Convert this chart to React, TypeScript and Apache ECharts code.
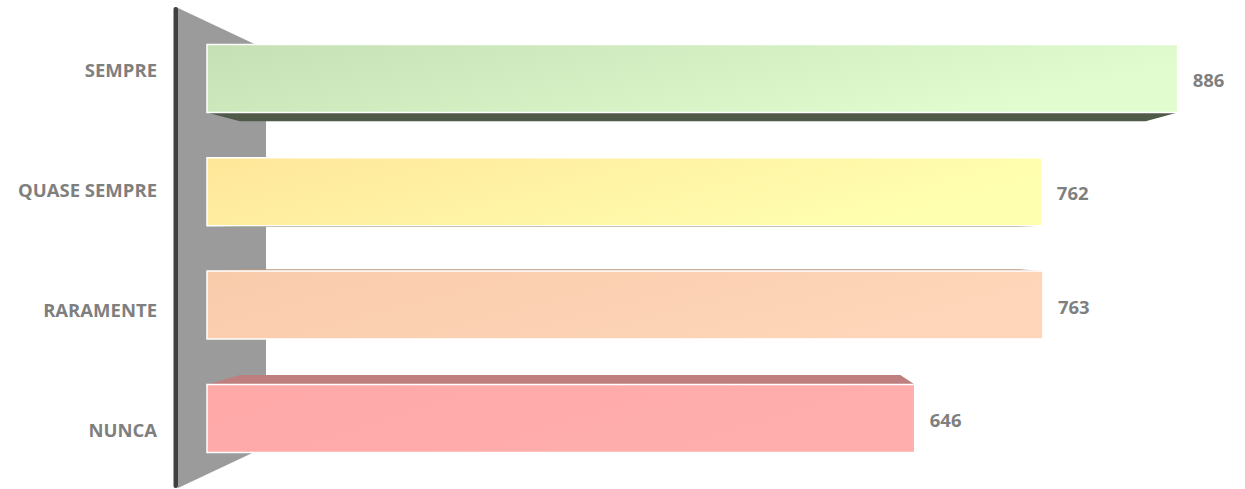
import React, { useEffect, useRef } from "react";
import * as echarts from "echarts";

const categories = ["SEMPRE", "QUASE SEMPRE", "RARAMENTE", "NUNCA"];
const values = [886, 762, 763, 646];
const colorsLeft = ["#c5e0b4", "#ffe699", "#f8cbab", "#ffa9a9"];
const colorsRight = ["#e1fdd0", "#ffffb0", "#ffd6b9", "#ffadad"];

const VX = 699;
const VY = 242;
const K = 0.933;

function shade(hex: string, f: number): string {
  const n = parseInt(hex.slice(1), 16);
  const r = Math.round(((n >> 16) & 255) * f);
  const g = Math.round(((n >> 8) & 255) * f);
  const b = Math.round((n & 255) * f);
  return "rgb(" + r + "," + g + "," + b + ")";
}

function back(x: number, y: number): number[] {
  return [VX + K * (x - VX), VY + K * (y - VY)];
}

export default function App() {
  const ref = useRef<HTMLDivElement>(null);
  useEffect(() => {
    if (!ref.current) return;
    const chart = echarts.init(ref.current, null, { renderer: "svg" });
    const labelFont = {
      color: "#7f7f7f",
      fontWeight: "bold" as const,
      fontSize: 18.5,
      fontFamily: "'Open Sans', sans-serif",
    };
    chart.setOption({
      animation: false,
      backgroundColor: "#ffffff",
      graphic: [
        {
          type: "polygon",
          z: -10,
          shape: { points: [[178, 8], [266, 49.5], [266, 446.5], [178, 488]] },
          style: { fill: "#9b9b9b" },
        },
        {
          type: "rect",
          z: -9,
          shape: { x: 173.5, y: 7, width: 4.5, height: 481, r: 2 },
          style: { fill: "#404040" },
        },
      ],
      grid: [
        { left: 176, top: 10, height: 480, width: 1000 },
        { left: 207, top: 21.8, height: 453.3, width: 986 },
      ],
      xAxis: [
        { gridIndex: 0, type: "value", min: 0, max: 900, show: false },
        { gridIndex: 1, type: "value", min: 0, max: 900, show: false },
      ],
      yAxis: [
        {
          gridIndex: 0,
          type: "category",
          inverse: true,
          data: categories,
          axisLine: { show: false },
          axisTick: { show: false },
          splitLine: { show: false },
          axisLabel: { margin: 19, ...labelFont },
        },
        {
          gridIndex: 1,
          type: "category",
          inverse: true,
          data: categories,
          show: false,
        },
      ],
      series: [
        {
          type: "custom",
          xAxisIndex: 1,
          yAxisIndex: 1,
          z: 5,
          data: values.map((v, i) => [v, i]),
          renderItem: (params: any, api: any) => {
            const idx = api.value(1);
            const v = api.value(0);
            const p0 = api.coord([0, idx]);
            const p1 = api.coord([v, idx]);
            const h = api.size([0, 1])[1] * 0.6;
            const x0 = p0[0];
            const x1 = p1[0];
            const yt = p0[1] - h / 2;
            const yb = p0[1] + h / 2;
            const children: any[] = [];
            if (yb < VY) {
              children.push({
                type: "polygon",
                shape: { points: [[x0, yb], [x1, yb], back(x1, yb), back(x0, yb)] },
                style: { fill: shade(colorsLeft[idx], 0.4) },
              });
            }
            if (yt > VY) {
              children.push({
                type: "polygon",
                shape: { points: [[x0, yt], [x1, yt], back(x1, yt), back(x0, yt)] },
                style: { fill: shade(colorsLeft[idx], 0.75) },
              });
            }
            children.push({
              type: "rect",
              shape: { x: x0, y: yt, width: x1 - x0, height: h },
              style: {
                fill: new echarts.graphic.LinearGradient(0, 0, 1, 0.3, [
                  { offset: 0, color: colorsLeft[idx] },
                  { offset: 1, color: colorsRight[idx] },
                ]),
                stroke: "#ffffff",
                lineWidth: 1.5,
              },
            });
            children.push({
              type: "text",
              x: x1 + 15,
              y: p0[1] + 1,
              style: {
                text: String(v),
                fill: labelFont.color,
                fontWeight: "bold",
                fontSize: labelFont.fontSize,
                fontFamily: labelFont.fontFamily,
                align: "left",
                verticalAlign: "middle",
              },
            });
            return { type: "group", children };
          },
        },
      ],
    });
    return () => chart.dispose();
  }, []);
  return (
    <div
      ref={ref}
      style={{ position: "fixed", left: 0, top: 0, width: 1245, height: 489 }}
    />
  );
}
